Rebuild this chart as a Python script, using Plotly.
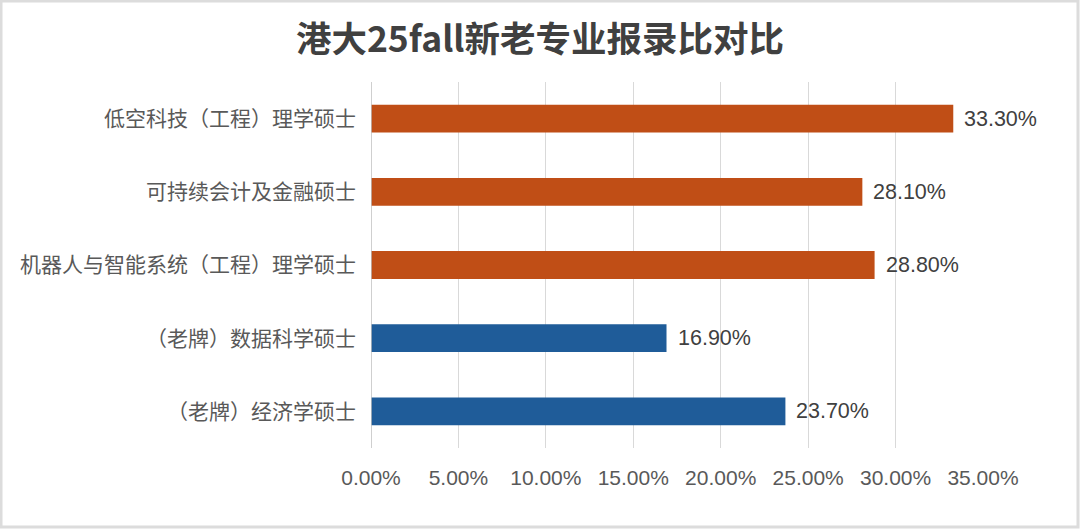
import plotly.graph_objects as go

categories = [
    "低空科技（工程）理学硕士",
    "可持续会计及金融硕士",
    "机器人与智能系统（工程）理学硕士",
    "（老牌）数据科学硕士",
    "（老牌）经济学硕士",
]
values = [0.333, 0.281, 0.288, 0.169, 0.237]
bar_colors = ["#C04E16", "#C04E16", "#C04E16", "#1F5C99", "#1F5C99"]
tick_vals = [0, 0.05, 0.10, 0.15, 0.20, 0.25, 0.30, 0.35]
tick_text = ["0.00%", "5.00%", "10.00%", "15.00%", "20.00%", "25.00%", "30.00%", "35.00%"]

FONT = "Liberation Sans, Arial, Noto Sans CJK SC, sans-serif"
CJK = "Noto Sans CJK SC, sans-serif"

fig = go.Figure()
fig.add_trace(go.Bar(
    y=categories,
    x=values,
    orientation="h",
    marker=dict(color=bar_colors, line=dict(width=0)),
    hoverinfo="skip",
))

for c, v in zip(categories, values):
    fig.add_annotation(
        x=v, y=c, xref="x", yref="y",
        text=f"{v*100:.2f}%",
        showarrow=False, xanchor="left", xshift=9,
        font=dict(family=FONT, size=21.5, color="#404040"),
    )

fig.add_shape(
    type="rect", xref="paper", yref="paper",
    x0=-370/612, x1=1 + 95/612, y0=-79/366, y1=1 + 81/366,
    line=dict(color="#DCDCDC", width=3), fillcolor="rgba(0,0,0,0)", layer="below",
)

fig.update_layout(
    width=1080, height=529,
    paper_bgcolor="white", plot_bgcolor="white",
    margin=dict(l=371, r=97, t=82, b=81),
    title=dict(
        text="<b>港大25fall新老专业报录比对比</b>",
        x=0.5, xanchor="center", y=0.925, yanchor="middle",
        font=dict(family=CJK, size=35.5, color="#404040"),
    ),
    bargap=0.62,
    showlegend=False,
    xaxis=dict(
        range=[0, 0.35],
        tickvals=tick_vals, ticktext=tick_text,
        showgrid=True, gridcolor="#D9D9D9", gridwidth=1,
        zeroline=False, showline=False,
        ticks="", ticklabelstandoff=15,
        tickfont=dict(family=FONT, size=21, color="#595959"),
        fixedrange=True,
    ),
    yaxis=dict(
        categoryorder="array", categoryarray=categories,
        autorange="reversed",
        showgrid=False, zeroline=False,
        showline=False, ticks="", ticklabelstandoff=14,
        tickfont=dict(family=CJK, size=21, color="#595959"),
        fixedrange=True,
    ),
)

fig.add_shape(
    type="line", xref="x", yref="paper", x0=0, x1=0, y0=0, y1=1,
    line=dict(color="#BFBFBF", width=1.5),
)

fig.write_html(
    "out.html",
    config={"displayModeBar": False},
    post_script="document.body.style.margin='0px';document.body.style.overflow='hidden';",
)
